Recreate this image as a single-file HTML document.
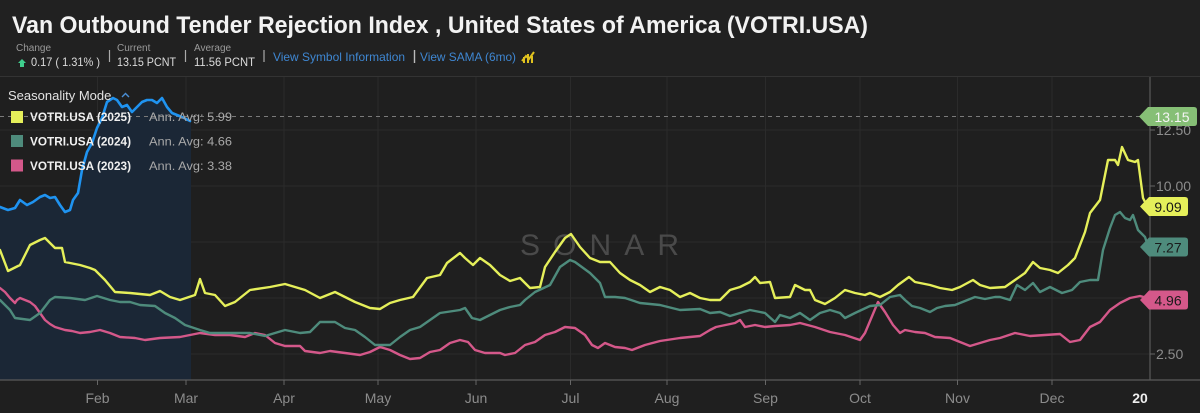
<!DOCTYPE html>
<html><head><meta charset="utf-8"><style>
html,body{margin:0;padding:0;background:#1f1f1f;}
svg{display:block;}
text{font-family:"Liberation Sans",Arial,sans-serif;}
</style></head><body>
<svg width="1200" height="413" viewBox="0 0 1200 413" xmlns="http://www.w3.org/2000/svg">
<rect x="0" y="0" width="1200" height="413" fill="#1f1f1f"/>
<rect x="0" y="0" width="1200" height="76" fill="#212121"/>
<line x1="0" y1="76.5" x2="1200" y2="76.5" stroke="#333" stroke-width="1"/>

<!-- Header -->
<text x="12" y="33" font-size="24" font-weight="bold" fill="#f2f2f2" textLength="856" lengthAdjust="spacingAndGlyphs">Van Outbound Tender Rejection Index , United States of America (VOTRI.USA)</text>
<text x="16" y="51" font-size="10" fill="#9a9a9a">Change</text>
<polygon points="22,59 26,63 24,63 24,67 20,67 20,63 18,63" fill="#3fcf8e"/>
<text x="31" y="66" font-size="12" fill="#dcdcdc" textLength="69" lengthAdjust="spacingAndGlyphs">0.17 ( 1.31% )</text>
<line x1="109.5" y1="50" x2="109.5" y2="62" stroke="#aaa" stroke-width="1.2"/>
<text x="117" y="51" font-size="10" fill="#9a9a9a">Current</text>
<text x="117" y="66" font-size="12" fill="#dcdcdc" textLength="59" lengthAdjust="spacingAndGlyphs">13.15 PCNT</text>
<line x1="185.5" y1="50" x2="185.5" y2="62" stroke="#aaa" stroke-width="1.2"/>
<text x="194" y="51" font-size="10" fill="#9a9a9a">Average</text>
<text x="194" y="66" font-size="12" fill="#dcdcdc" textLength="61" lengthAdjust="spacingAndGlyphs">11.56 PCNT</text>
<line x1="264" y1="50" x2="264" y2="62" stroke="#aaa" stroke-width="1.2"/>
<text x="273" y="61" font-size="12" fill="#3f87d2" textLength="132" lengthAdjust="spacingAndGlyphs">View Symbol Information</text>
<line x1="414.5" y1="50" x2="414.5" y2="63" stroke="#bbb" stroke-width="1.4"/>
<text x="420" y="61" font-size="12" fill="#3f87d2" textLength="96" lengthAdjust="spacingAndGlyphs">View SAMA (6mo)</text>
<g stroke="#e0c21f" stroke-width="2" fill="none">
<polyline points="522,61 526,56 529,59 534,52"/>
<line x1="524" y1="63" x2="524" y2="57"/>
<line x1="528" y1="63" x2="528" y2="54"/>
<line x1="532" y1="63" x2="532" y2="56"/>
</g>

<!-- grid -->
<g stroke="#2b2b2b" stroke-width="1">
<line x1="0" y1="130" x2="1150" y2="130"/>
<line x1="0" y1="186" x2="1150" y2="186"/>
<line x1="0" y1="242" x2="1150" y2="242"/>
<line x1="0" y1="298" x2="1150" y2="298"/>
<line x1="0" y1="354" x2="1150" y2="354"/>
<line x1="97.5" y1="77" x2="97.5" y2="380"/>
<line x1="186" y1="77" x2="186" y2="380"/>
<line x1="284" y1="77" x2="284" y2="380"/>
<line x1="378" y1="77" x2="378" y2="380"/>
<line x1="476" y1="77" x2="476" y2="380"/>
<line x1="570.5" y1="77" x2="570.5" y2="380"/>
<line x1="667" y1="77" x2="667" y2="380"/>
<line x1="765.5" y1="77" x2="765.5" y2="380"/>
<line x1="860" y1="77" x2="860" y2="380"/>
<line x1="957.5" y1="77" x2="957.5" y2="380"/>
<line x1="1052" y1="77" x2="1052" y2="380"/>
</g>

<!-- SONAR watermark -->
<text x="520" y="255" font-size="30" fill="#4a4a4a" textLength="159" lengthAdjust="spacing">SONAR</text>

<!-- blue area -->
<polygon fill="#1b2736" points="0,207 8,210 15,208 20,200 27,205 33,202 40,197 45,195 50,198 55,197 60,205 65,212 70,210 73,200 78,193 82,170 87,152 92,143 97,128 102,118 107,102 113,98 117,100 122,107 127,105 132,112 137,107 142,102 147,100 152,100 157,103 162,98 167,107 172,113 177,115 182,117 191,121 191,380 0,380"/>

<!-- dashed current line -->
<line x1="0" y1="116.5" x2="1140" y2="116.5" stroke="#7a7a7a" stroke-width="1" stroke-dasharray="4,4"/>

<!-- series -->
<g fill="none" stroke-width="2.4" stroke-linejoin="round" stroke-linecap="round">
<polyline stroke="#d4588a" points="0,288 5,292 10,298 15,303 17,300 20,298 30,302 35,306 40,313 45,320 50,324 55,327 65,330 72,331 80,333 90,332 100,330 110,333 120,337 135,338 145,340 160,338 180,337 200,333 215,335 230,335 245,337 255,333 265,335 275,343 285,346 300,346 305,351 320,353 330,351 345,353 360,355 370,352 380,347 390,350 400,355 410,359 420,358 430,352 440,350 450,343 460,340 468,342 475,350 485,353 500,353 505,355 515,353 525,345 535,342 545,335 555,332 565,327 575,328 585,335 592,345 598,348 605,343 615,347 625,348 632,350 645,345 660,341 680,338 700,336 710,330 716,327 735,323 740,320 745,327 755,325 765,327 775,326 790,325 800,323 815,327 830,332 845,335 860,340 865,333 878,302 885,312 893,325 900,333 905,330 915,332 925,333 935,337 950,338 960,342 970,346 980,343 990,340 1000,338 1015,333 1030,336 1045,335 1060,334 1070,342 1080,340 1090,327 1100,322 1110,310 1120,303 1130,298 1140,296 1147,298"/>
<polyline stroke="#4e8b7c" points="0,300 10,310 15,318 30,320 40,313 50,300 55,297 70,298 85,300 97,296 110,300 120,302 130,302 140,305 155,306 165,313 175,318 185,325 200,330 210,333 230,333 250,333 265,336 275,333 285,330 300,333 310,332 320,322 335,322 345,328 355,330 365,337 375,345 390,345 400,337 410,330 420,327 430,320 440,313 460,310 465,308 472,318 480,320 490,315 500,310 510,307 520,305 525,300 535,292 550,285 560,267 570,260 575,262 590,273 600,283 605,297 615,297 625,298 640,303 660,305 680,310 700,309 710,313 720,312 730,316 740,313 750,310 760,312 765,313 775,322 780,315 790,318 800,313 810,320 820,313 830,310 840,313 845,318 855,313 870,306 880,305 890,297 900,295 905,300 912,306 920,308 930,312 937,308 945,306 955,305 965,301 975,297 985,299 995,297 1000,297 1010,300 1017,285 1025,290 1033,283 1040,292 1050,287 1062,293 1072,290 1080,282 1090,280 1098,280 1103,250 1110,228 1115,215 1120,212 1125,218 1130,220 1133,215 1138,230 1145,237 1148,246"/>
<polyline stroke="#e5ef5a" points="0,250 8,271 20,265 30,245 40,240 45,238 55,248 62,248 65,262 80,265 90,268 95,270 105,280 115,292 130,293 150,295 160,291 170,297 180,300 195,295 200,279 205,293 215,295 225,306 235,302 250,290 270,287 285,284 305,290 320,298 335,292 355,302 370,308 380,309 390,303 400,300 413,297 427,278 440,275 447,263 460,253 465,258 473,265 480,258 490,265 500,275 510,281 520,278 530,288 540,287 545,267 555,252 565,238 571,234 580,247 590,258 600,262 610,262 620,273 630,280 640,285 650,292 660,287 670,290 680,297 690,293 700,298 710,300 720,300 730,290 740,287 750,282 755,277 760,283 770,282 775,298 790,297 795,285 805,290 810,290 815,300 825,304 835,298 845,290 855,293 865,295 870,293 880,297 890,292 898,285 909,277 915,282 930,285 940,288 952,290 960,287 973,280 980,285 990,288 1005,287 1015,280 1025,273 1033,262 1040,268 1050,270 1058,273 1068,265 1075,258 1085,232 1090,213 1100,200 1108,160 1115,160 1118,165 1122,147 1128,160 1135,162 1138,160 1143,198 1147,206"/>
<polyline stroke="#1f93f0" stroke-width="2.6" points="0,207 8,210 15,208 20,200 27,205 33,202 40,197 45,195 50,198 55,197 60,205 65,212 70,210 73,200 78,193 82,170 87,152 92,143 97,128 102,118 107,102 113,98 117,100 122,107 127,105 132,112 137,107 142,102 147,100 152,100 157,103 162,98 167,107 172,113 177,115 182,117 190,121"/>
</g>

<!-- axes -->
<line x1="0" y1="380" x2="1200" y2="380" stroke="#5a5a5a" stroke-width="1.2"/>
<line x1="1150" y1="77" x2="1150" y2="380" stroke="#5a5a5a" stroke-width="1.2"/>
<g stroke="#666" stroke-width="1">
<line x1="97.5" y1="380" x2="97.5" y2="385"/>
<line x1="186" y1="380" x2="186" y2="385"/>
<line x1="284" y1="380" x2="284" y2="385"/>
<line x1="378" y1="380" x2="378" y2="385"/>
<line x1="476" y1="380" x2="476" y2="385"/>
<line x1="570.5" y1="380" x2="570.5" y2="385"/>
<line x1="667" y1="380" x2="667" y2="385"/>
<line x1="765.5" y1="380" x2="765.5" y2="385"/>
<line x1="860" y1="380" x2="860" y2="385"/>
<line x1="957.5" y1="380" x2="957.5" y2="385"/>
<line x1="1052" y1="380" x2="1052" y2="385"/>
<line x1="1150" y1="130" x2="1155" y2="130"/>
<line x1="1150" y1="186" x2="1155" y2="186"/>
<line x1="1150" y1="242" x2="1155" y2="242"/>
<line x1="1150" y1="298" x2="1155" y2="298"/>
<line x1="1150" y1="354" x2="1155" y2="354"/>
</g>
<g font-size="14" fill="#8c8c8c" text-anchor="middle">
<text x="97.5" y="403">Feb</text>
<text x="186" y="403">Mar</text>
<text x="284" y="403">Apr</text>
<text x="378" y="403">May</text>
<text x="476" y="403">Jun</text>
<text x="570.5" y="403">Jul</text>
<text x="667" y="403">Aug</text>
<text x="765.5" y="403">Sep</text>
<text x="860" y="403">Oct</text>
<text x="957.5" y="403">Nov</text>
<text x="1052" y="403">Dec</text>
<text x="1140" y="403" font-weight="bold" fill="#eeeeee">20</text>
</g>
<g font-size="14" fill="#8c8c8c">
<text x="1156" y="135">12.50</text>
<text x="1156" y="191">10.00</text>
<text x="1156" y="247">7.50</text>
<text x="1156" y="303">5.00</text>
<text x="1156" y="359">2.50</text>
</g>

<!-- value tags -->
<path d="M1139,116.5 L1148,107 L1194,107 Q1197,107 1197,110 L1197,123 Q1197,126 1194,126 L1148,126 Z" fill="#86bf76"/>
<text x="1172" y="122" font-size="14" fill="#f4f4f4" text-anchor="middle">13.15</text>
<path d="M1140,206.5 L1149,197 L1185,197 Q1188,197 1188,200 L1188,213 Q1188,216 1185,216 L1149,216 Z" fill="#e5ef5a"/>
<text x="1168" y="212" font-size="14" fill="#151515" text-anchor="middle">9.09</text>
<path d="M1140,247 L1149,237.5 L1185,237.5 Q1188,237.5 1188,240.5 L1188,253.5 Q1188,256.5 1185,256.5 L1149,256.5 Z" fill="#4e8b7c"/>
<text x="1168" y="252.5" font-size="14" fill="#1a1a1a" text-anchor="middle">7.27</text>
<path d="M1140,300 L1149,290.5 L1185,290.5 Q1188,290.5 1188,293.5 L1188,306.5 Q1188,309.5 1185,309.5 L1149,309.5 Z" fill="#d4588a"/>
<text x="1168" y="305.5" font-size="14" fill="#1a1a1a" text-anchor="middle">4.96</text>

<!-- legend -->
<text x="8" y="100" font-size="13" fill="#e2e2e2">Seasonality Mode</text>
<polyline points="122,97 125.5,93.5 129,97" fill="none" stroke="#4a8fd6" stroke-width="1.4"/>
<rect x="11" y="111" width="12" height="12" fill="#e5ef5a"/>
<rect x="11" y="135" width="12" height="12" fill="#4e8b7c"/>
<rect x="11" y="159.5" width="12" height="12" fill="#d4588a"/>
<g font-size="12" font-weight="bold" fill="#f0f0f0">
<text x="30" y="121" textLength="101" lengthAdjust="spacingAndGlyphs">VOTRI.USA (2025)</text>
<text x="30" y="145.5" textLength="101" lengthAdjust="spacingAndGlyphs">VOTRI.USA (2024)</text>
<text x="30" y="170" textLength="101" lengthAdjust="spacingAndGlyphs">VOTRI.USA (2023)</text>
</g>
<g font-size="12" fill="#a8a8a8">
<text x="149" y="121" textLength="83" lengthAdjust="spacingAndGlyphs">Ann. Avg: 5.99</text>
<text x="149" y="145.5" textLength="83" lengthAdjust="spacingAndGlyphs">Ann. Avg: 4.66</text>
<text x="149" y="170" textLength="83" lengthAdjust="spacingAndGlyphs">Ann. Avg: 3.38</text>
</g>
</svg>
</body></html>
